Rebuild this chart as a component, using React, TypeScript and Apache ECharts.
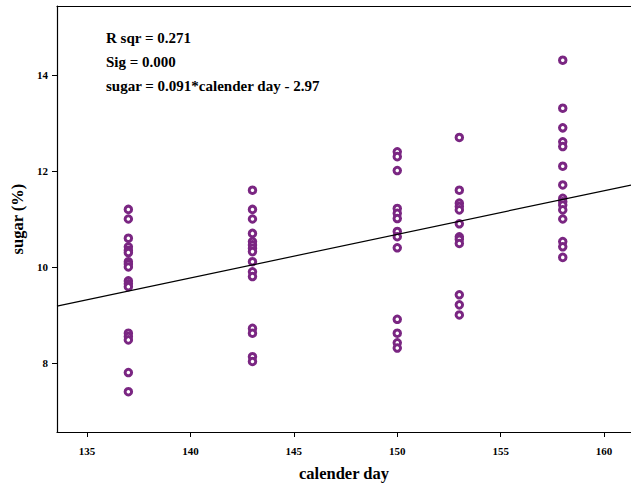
import React, { useEffect, useRef } from "react";
import * as echarts from "echarts";

const days = [137, 143, 150, 153, 158];
const sugar137 = [11.2, 11.0, 10.6, 10.42, 10.35, 10.3, 10.11, 10.06, 10.0, 9.71, 9.65, 9.59, 8.62, 8.55, 8.48, 7.8, 7.4];
const sugar143 = [11.6, 11.2, 11.0, 10.7, 10.53, 10.46, 10.39, 10.32, 10.11, 9.9, 9.8, 8.72, 8.62, 8.13, 8.03];
const sugar150 = [12.4, 12.3, 12.01, 11.22, 11.12, 11.01, 10.74, 10.63, 10.4, 8.91, 8.62, 8.42, 8.31];
const sugar153 = [12.7, 11.6, 11.33, 11.26, 11.19, 10.9, 10.63, 10.58, 10.49, 9.42, 9.21, 9.0];
const sugar158 = [14.31, 13.31, 12.9, 12.61, 12.51, 12.1, 11.71, 11.43, 11.36, 11.29, 11.19, 11.0, 10.53, 10.42, 10.2];
const sugarByDay = [sugar137, sugar143, sugar150, sugar153, sugar158];

const xTicks = [135, 140, 145, 150, 155, 160];
const yTicks = [8, 10, 12, 14];
const slope = 0.091;
const intercept = -2.97;
const xMin = 133.55;
const xMax = 161.3;
const yMin = 6.56;
const yMax = 15.44;
const statLines = ["R sqr = 0.271", "Sig = 0.000", "sugar = 0.091*calender day - 2.97"];

export default function App() {
  const ref = useRef<HTMLDivElement>(null);
  useEffect(() => {
    if (!ref.current) return;
    const chart = echarts.init(ref.current, null, { renderer: "svg" });
    const points: number[][] = [];
    days.forEach((d, i) => sugarByDay[i].forEach((v) => points.push([d, v])));
    const font = "'Liberation Serif', 'Times New Roman', serif";
    const purple = "#7a2682";
    chart.setOption({
      animation: false,
      backgroundColor: "#ffffff",
      grid: { left: 57, right: 0, top: 6, bottom: 54, outerBoundsMode: "none", containLabel: false },
      xAxis: [
        {
          type: "value",
          min: xMin,
          max: xMax,
          name: "calender day",
          nameLocation: "middle",
          nameGap: 33,
          nameTextStyle: { fontFamily: font, fontWeight: "bold", fontSize: 16.5, color: "#000" },
          axisLine: { show: true, onZero: false, lineStyle: { color: "#000", width: 1.2 } },
          axisTick: { show: true, inside: false, length: 5, customValues: xTicks, lineStyle: { color: "#000" } },
          axisLabel: { customValues: xTicks, fontFamily: font, fontWeight: "bold", fontSize: 11, color: "#000", margin: 13 },
          splitLine: { show: false },
        },
        {
          type: "value",
          position: "top",
          min: xMin,
          max: xMax,
          axisLine: { show: true, onZero: false, lineStyle: { color: "#000", width: 1.2 } },
          axisTick: { show: false },
          axisLabel: { show: false },
          splitLine: { show: false },
        },
      ],
      yAxis: {
        type: "value",
        min: yMin,
        max: yMax,
        name: "sugar (%)",
        nameLocation: "middle",
        nameGap: 31,
        nameTextStyle: { fontFamily: font, fontWeight: "bold", fontSize: 16.5, color: "#000" },
        axisLine: { show: true, onZero: false, lineStyle: { color: "#000", width: 1.2 } },
        axisTick: { show: true, inside: false, length: 5, customValues: yTicks, lineStyle: { color: "#000" } },
        axisLabel: { customValues: yTicks, fontFamily: font, fontWeight: "bold", fontSize: 11, color: "#000", margin: 9 },
        splitLine: { show: false },
      },
      series: [
        {
          type: "scatter",
          data: points,
          symbol: "circle",
          symbolSize: 6.5,
          itemStyle: { color: "#ffffff", borderColor: purple, borderWidth: 3, opacity: 1 },
          silent: true,
        },
        {
          type: "line",
          data: [
            [xMin, slope * xMin + intercept],
            [xMax, slope * xMax + intercept],
          ],
          symbol: "none",
          lineStyle: { color: "#000", width: 1.2 },
          silent: true,
        },
      ],
      graphic: statLines.map((t, i) => ({
        type: "text",
        left: 106,
        top: 30 + i * 24,
        style: { text: t, font: `bold 15px ${font}`, fill: "#000" },
      })),
    });
    return () => chart.dispose();
  }, []);
  return <div ref={ref} style={{ position: "fixed", left: 0, top: 0, width: 631, height: 486 }} />;
}
